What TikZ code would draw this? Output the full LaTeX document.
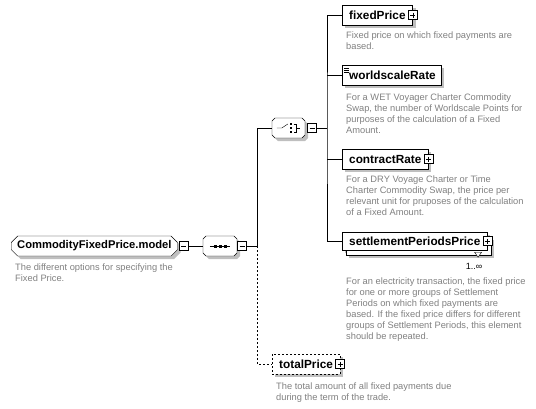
\documentclass[tikz,border=0pt]{standalone}
\usepackage{fontspec}
\setmainfont{Liberation Sans}
\usetikzlibrary{positioning,shapes.misc,shadows}

\begin{document}
\begin{tikzpicture}[x=1pt,y=-1pt,
  shade/.style={general shadow={fill=black!25,shadow xshift=3pt,shadow yshift=-3pt}},
  elem/.style={draw,fill=white,shade,minimum height=20pt,inner xsep=7pt,inner ysep=0pt,
    font=\bfseries\fontsize{11.8}{13}\selectfont},
  group/.style={draw,fill=white,shade,chamfered rectangle,chamfered rectangle xsep=3pt,
    minimum height=20pt,inner xsep=3pt,inner ysep=0pt,font=\bfseries\fontsize{11.2}{13}\selectfont},
  pmbox/.style={draw,fill=white,minimum size=9pt,inner sep=0pt},
  minus/.style={pmbox,path picture={\draw ([xshift=2pt]path picture bounding box.west) -- ([xshift=-2pt]path picture bounding box.east);}},
  plus/.style={pmbox,path picture={\draw ([xshift=2pt]path picture bounding box.west) -- ([xshift=-2pt]path picture bounding box.east)
      ([yshift=-2pt]path picture bounding box.north) -- ([yshift=2pt]path picture bounding box.south);}},
  desc/.style={anchor=north west,inner sep=0pt,align=left,text=black!50,font=\fontsize{9.3}{10.9}\selectfont},
  opt/.style={dash pattern=on 2pt off 2pt}]
  \useasboundingbox (0,0) rectangle (536,408);

  % root and sequence
  \node[group,anchor=west] (model) at (11,246) {CommodityFixedPrice.model};
  \node[minus] (modelm) at (183.5,246) {};
  \node[desc] (modeld) at (15,264) {The different options for specifying the\\Fixed Price.};
  \node[group,minimum width=34pt] (seq) at (220,246) {};
  \node[minus] (seqm) at (242,246) {};
  \draw (seq.west) ++(7,0) -- ++(20,0);
  \foreach \dx in {-5,0,5}
    \fill ([xshift=\dx pt]seq.center) +(-1.5,-1.5) rectangle +(1.5,1.5);

  % choice
  \node[group,minimum width=33pt] (choice) at (288.5,128) {};
  \node[minus] (choicem) at (312,128) {};
  \draw (choice.west) ++(5,0) -- ++(5,0) -- ++(6,-4);
  \foreach \dy in {-4,0,4}
    \fill (291,128+\dy) +(-1.2,-1.2) rectangle +(1.2,1.2);
  \draw (293.5,124) -- (296,124) -- (296,132) -- (293.5,132) (296,128) -- (300,128);

  % children
  \node[elem,anchor=west] (fixed) at (342,15) {fixedPrice\hspace{6pt}};
  \node[plus] (fixedp) at (fixed.east) {};
  \node[desc] (fixedd) at (346,32) {Fixed price on which fixed payments are\\based.};

  \node[elem,anchor=west,inner xsep=5pt] (world) at (342,75) {\hspace{2pt}worldscaleRate};
  \draw ([shift={(2,3)}]world.north west) -- +(5,0) ++(0,2) -- +(5,0) ++(0,2) -- +(5,0);
  \node[desc] (worldd) at (346,94) {For a WET Voyager Charter Commodity\\Swap, the number of Worldscale Points for\\purposes of the calculation of a Fixed\\Amount.};

  \node[elem,anchor=west] (contract) at (342,159) {contractRate\hspace{6pt}};
  \node[plus] (contractp) at (contract.east) {};
  \node[desc] (contractd) at (346,176) {For a DRY Voyage Charter or Time\\Charter Commodity Swap, the price per\\relevant unit for pruposes of the calculation\\of a Fixed Amount.};

  \node[elem,anchor=west,minimum height=18pt,
    general shadow={fill=black!25,shadow xshift=7pt,shadow yshift=-8pt}]
    (settle) at (342,241) {settlementPeriodsPrice\hspace{6pt}};
  \draw[fill=white] ([shift={(4,0)}]settle.south west) -- ([shift={(4,5)}]settle.south west)
    -- ([shift={(4,5)}]settle.south east) -- ([shift={(4,5)}]settle.north east)
    -- ([shift={(0,5)}]settle.north east) -- (settle.south east) -- cycle;
  \draw (settle.south west) -- (settle.south east);
  \node[plus] (settlep) at (settle.east) {};
  \draw[fill=white] ([shift={(-13,2)}]settle.south east) -- +(7,0) -- +(3.5,5) -- cycle;
  \node[inner sep=0pt,font=\fontsize{9}{10}\selectfont,below left=13pt and 5pt of settle.south east] (mult) {1..∞};
  \node[desc] (settled) at (346,278) {For an electricity transaction, the fixed price\\for one or more groups of Settlement\\Periods on which fixed payments are\\based. If the fixed price differs for different\\groups of Settlement Periods, this element\\should be repeated.};

  \node[elem,anchor=west,opt] (total) at (272,364) {totalPrice\hspace{6pt}};
  \node[plus] (totalp) at (total.east) {};
  \node[desc] (totald) at (276,383) {The total amount of all fixed payments due\\during the term of the trade.};

  % connectors
  \coordinate (trunk) at (257,246);
  \coordinate (branch) at (327,128);
  \draw (modelm) -- (seq);
  \draw (seqm) -- (trunk) |- (choice);
  \draw[opt] (trunk) |- (total);
  \draw (choicem) -- (branch);
  \draw (fixed.west) -| (branch) |- (settle.west);
  \draw (branch |- world.west) -- (world.west);
  \draw (branch |- contract.west) -- (contract.west);
\end{tikzpicture}
\end{document}
